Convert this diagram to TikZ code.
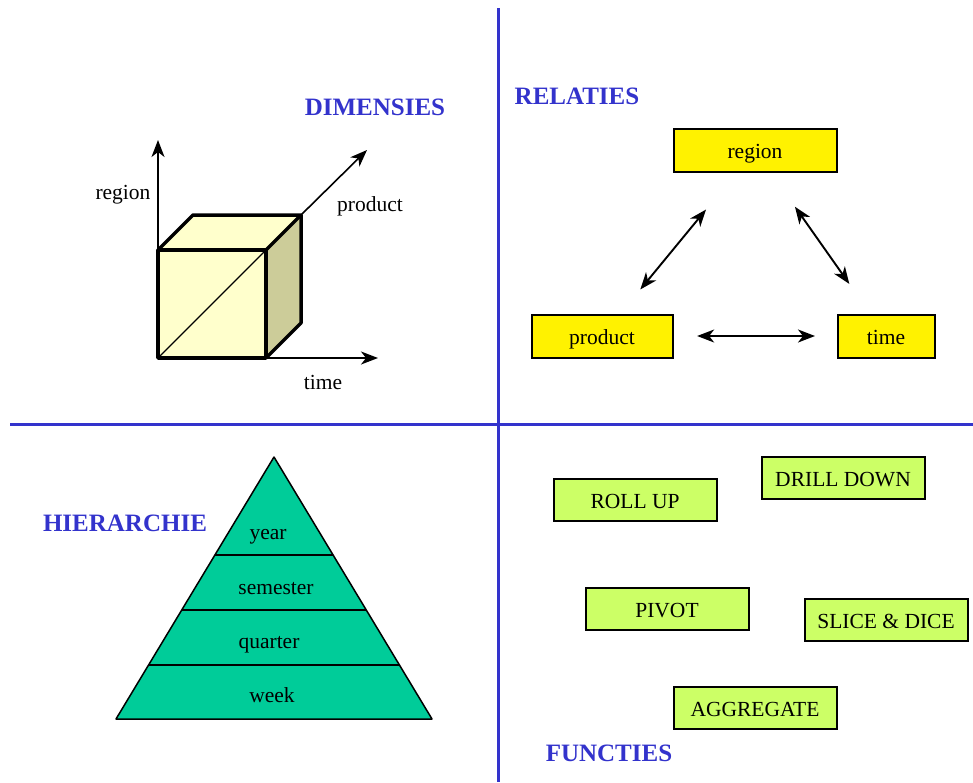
\documentclass[tikz,border=0pt]{standalone}
\usepackage{fontspec}
\setmainfont{Liberation Serif}
\usetikzlibrary{arrows.meta,calc}
\definecolor{headblue}{RGB}{51,51,204}
\definecolor{cubefront}{RGB}{255,255,204}
\definecolor{cubeside}{RGB}{204,204,153}
\definecolor{pyrgreen}{RGB}{0,204,153}
\definecolor{funcgreen}{RGB}{204,255,102}

\begin{document}
\begin{tikzpicture}[
    x=1pt, y=-1pt,
    every node/.style={font=\fontsize{21.5}{25}\selectfont},
    head/.style={font=\fontsize{25}{30}\selectfont\bfseries, text=headblue},
    divider/.style={draw=headblue, line width=3pt},
    relbox/.style={draw, line width=2pt, fill=yellow, minimum height=43pt, inner sep=0pt, text height=21.5pt, text depth=4pt},
    funcbox/.style={draw, line width=2pt, fill=funcgreen, minimum height=42pt, minimum width=163pt, inner sep=0pt, text height=21.5pt, text depth=4pt},
    label/.style={anchor=base},
    axis/.style={-{Stealth[length=17pt,width=13pt,inset=5pt]}, line width=1.6pt},
    rel/.style={{Stealth[length=17pt,width=13pt,inset=5pt]}-{Stealth[length=17pt,width=13pt,inset=5pt]}, line width=1.9pt},
    edge/.style={line width=3.5pt, line join=round}
]
    \useasboundingbox (0,0) rectangle (973,782);

    \draw[divider] (498,8) -- (498,782);
    \draw[divider] (10,424) -- (973,424);

    \node[head] (dimhead) at (375,107) {DIMENSIES};
    \node[head] (relhead) at (577,96) {RELATIES};
    \node[head] (hierhead) at (125,523) {HIERARCHIE};
    \node[head] (funchead) at (609,753) {FUNCTIES};

    % cube
    \coordinate (fbl) at (158,358);
    \coordinate (fbr) at (266,358);
    \coordinate (ftl) at (158,250);
    \coordinate (ftr) at (266,250);
    \coordinate (btl) at (193,215);
    \coordinate (btr) at (301,215);
    \coordinate (bbr) at (301,323);
    \draw[axis] (ftl) -- (158,140) coordinate (regtip);
    \draw[axis] (btr) -- (367,150) coordinate (prodtip);
    \draw[axis] (fbr) -- (378,358) coordinate (timetip);
    \fill[cubefront] (fbl) -- (fbr) -- (ftr) -- (ftl) -- cycle;
    \fill[cubefront] (ftl) -- (btl) -- (btr) -- (ftr) -- cycle;
    \fill[cubeside] (fbr) -- (bbr) -- (btr) -- (ftr) -- cycle;
    \draw[line width=1.2pt] (fbl) -- (ftr);
    \draw[edge] (fbl) -- (fbr) -- (ftr) -- (ftl) -- cycle;
    \draw[edge] (ftl) -- (btl) -- (btr) -- (ftr);
    \draw[edge] (btr) -- (bbr) -- (fbr);
    \node[label] (reglab) at (123,199) {region};
    \node[label] (prodlab) at (370,211) {product};
    \node[label] (timelab) at (323,389) {time};

    % relaties
    \node[relbox, minimum width=163pt] (reg) at (755,150) {region};
    \node[relbox, minimum width=141pt] (prod) at (602,336) {product};
    \node[relbox, minimum width=97pt] (time) at (886,336) {time};
    \draw[rel] ($(prod)!0.25!(reg)$) -- ($(prod)!0.68!(reg)$);
    \draw[rel] ($(reg)!0.305!(time)$) -- ($(reg)!0.72!(time)$);
    \draw[rel] ($(prod)!0.335!(time)$) -- ($(prod)!0.75!(time)$);

    % hierarchie
    \draw[line width=1.5pt, fill=pyrgreen, line join=round] (274,457) -- (432,719) -- (116,719) -- cycle;
    \draw[line width=1.5pt] (215,555) -- (333,555);
    \draw[line width=1.5pt] (182,610) -- (366,610);
    \draw[line width=1.5pt] (149,665) -- (399,665);
    \node[label] (year) at (268,539) {year};
    \node[label] (semester) at (276,594) {semester};
    \node[label] (quarter) at (269,648) {quarter};
    \node[label] (week) at (272,702) {week};

    % functies
    \node[funcbox] (rollup) at (635,500) {ROLL UP};
    \node[funcbox] (drilldown) at (843,478) {DRILL DOWN};
    \node[funcbox] (pivot) at (667,609) {PIVOT};
    \node[funcbox] (slicedice) at (886,620) {SLICE \& DICE};
    \node[funcbox] (aggregate) at (755,708) {AGGREGATE};
\end{tikzpicture}
\end{document}
